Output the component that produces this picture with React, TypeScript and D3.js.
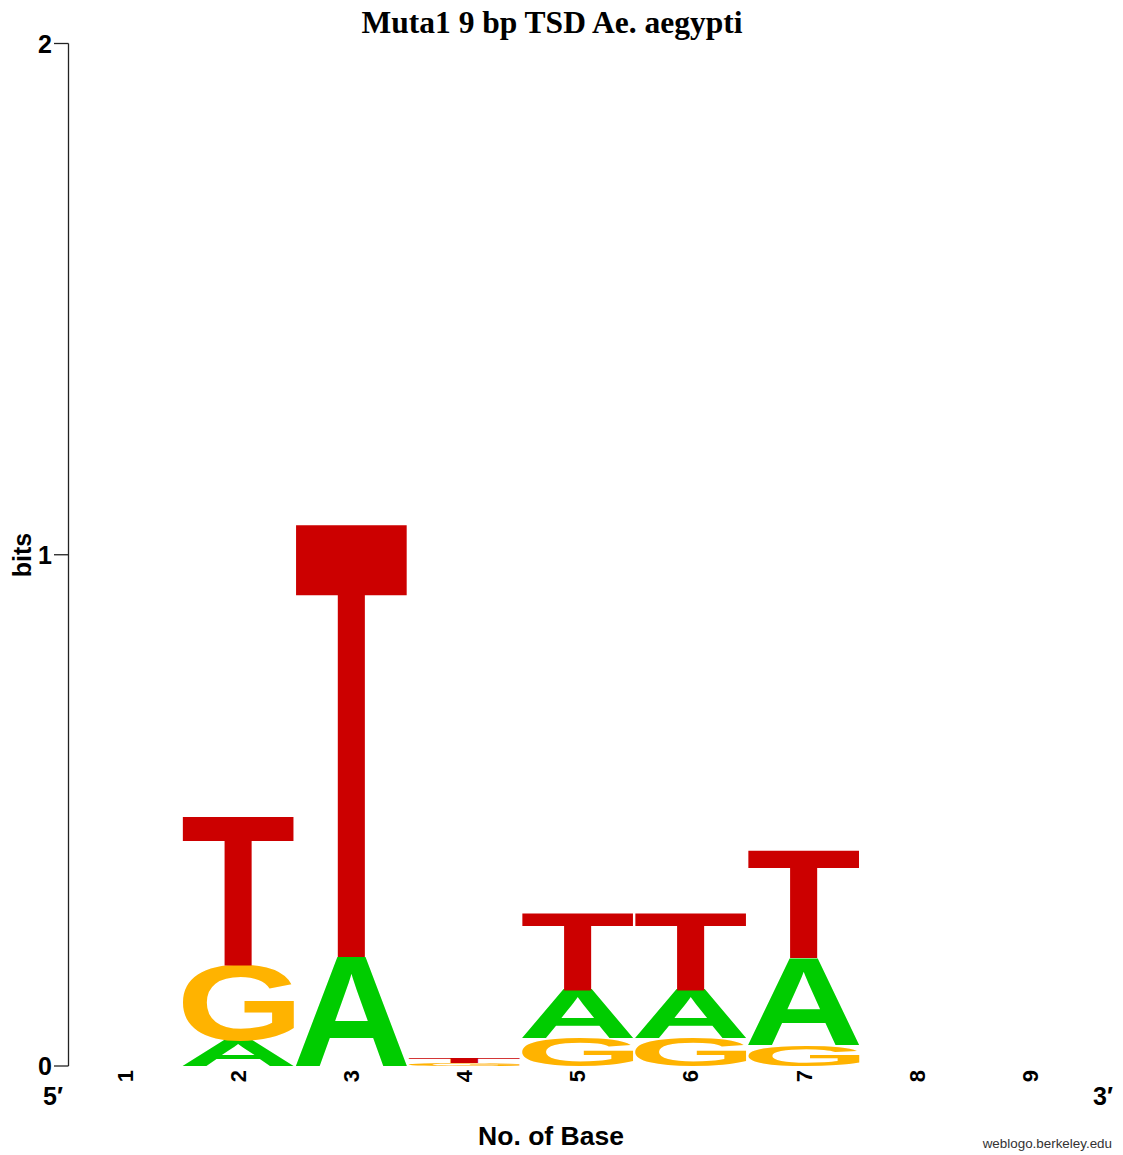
import React, { useMemo } from 'react';
import * as d3 from 'd3';

// ---- data (bits per letter at each position) ----
const positions = [1, 2, 3, 4, 5, 6, 7, 8, 9];
const bitsA = [0, 0.049, 0.213, 0, 0.094, 0.094, 0.170, 0, 0];
const bitsC = [0, 0, 0, 0, 0, 0, 0, 0, 0];
const bitsG = [0, 0.149, 0, 0.006, 0.055, 0.055, 0.041, 0, 0];
const bitsT = [0, 0.290, 0.844, 0.010, 0.149, 0.149, 0.209, 0, 0];
const yTicks = [0, 1, 2];
const title = 'Muta1 9 bp TSD Ae. aegypti';

const colors: Record<string, string> = {
  A: '#00CC00',
  C: '#0000CC',
  G: '#FFB300',
  T: '#CC0000',
};

const LETTER_FONT = "'Liberation Sans', Arial, Helvetica, sans-serif";
const MF = 400; // measuring / drawing font size

type Ink = { L: number; R: number; A: number; D: number };

// Measure the actual ink box of a glyph by rasterising it and scanning pixels.
function measureInk(ch: string): Ink {
  const size = 1000;
  const ox = 250;
  const oy = 700;
  const cv = document.createElement('canvas');
  cv.width = size;
  cv.height = size;
  const ctx = cv.getContext('2d')!;
  ctx.font = `bold ${MF}px ${LETTER_FONT}`;
  ctx.fillStyle = '#000';
  ctx.fillText(ch, ox, oy);
  const data = ctx.getImageData(0, 0, size, size).data;
  let minX = size, minY = size, maxX = -1, maxY = -1;
  for (let yy = 0; yy < size; yy++) {
    for (let xx = 0; xx < size; xx++) {
      if (data[(yy * size + xx) * 4 + 3] >= 128) {
        if (xx < minX) minX = xx;
        if (xx > maxX) maxX = xx;
        if (yy < minY) minY = yy;
        if (yy > maxY) maxY = yy;
      }
    }
  }
  if (maxX < 0) {
    const m = ctx.measureText(ch);
    return {
      L: m.actualBoundingBoxLeft,
      R: m.actualBoundingBoxRight,
      A: m.actualBoundingBoxAscent,
      D: m.actualBoundingBoxDescent,
    };
  }
  return { L: ox - minX, R: maxX + 1 - ox, A: oy - minY, D: maxY + 1 - oy };
}

export default function App() {
  const W = 1123;
  const H = 1155;
  const axisX = 68.5;

  const x = d3
    .scaleBand<number>()
    .domain(positions)
    .range([axisX, axisX + 9 * 113.1])
    .paddingInner(0.02)
    .paddingOuter(0.01);

  const y = d3.scaleLinear().domain([0, 2]).range([1066, 43.5]);

  const inks = useMemo(() => {
    const r: Record<string, Ink> = {};
    ['A', 'C', 'G', 'T'].forEach((c) => (r[c] = measureInk(c)));
    return r;
  }, []);

  const stacks = positions.map((p, i) => {
    const items = [
      { ch: 'A', v: bitsA[i] },
      { ch: 'C', v: bitsC[i] },
      { ch: 'G', v: bitsG[i] },
      { ch: 'T', v: bitsT[i] },
    ]
      .filter((d) => d.v > 0)
      .sort((a, b) => a.v - b.v);
    let acc = 0;
    return items.map((d) => {
      const y0 = acc;
      acc += d.v;
      return { pos: p, ch: d.ch, y0, y1: acc };
    });
  });

  const bw = x.bandwidth();

  return (
    <svg
      width={W}
      height={H}
      style={{ position: 'absolute', left: 0, top: 0, background: '#fff' }}
    >
      <rect x={0} y={0} width={W} height={H} fill="#fff" />
      {/* title */}
      <text
        x={552}
        y={33}
        textAnchor="middle"
        fontFamily="'Liberation Serif', 'Times New Roman', serif"
        fontWeight="bold"
        fontSize={31.5}
        fill="#000"
      >
        {title}
      </text>

      {/* letters */}
      {stacks.flat().map((d, k) => {
        const ink = inks[d.ch];
        const x0 = x(d.pos)!;
        const top = y(d.y1);
        const bottom = y(d.y0);
        const sx = bw / (ink.L + ink.R);
        const sy = (bottom - top) / (ink.A + ink.D);
        return (
          <text
            key={k}
            transform={`translate(${x0},${top}) scale(${sx},${sy}) translate(${ink.L},${ink.A})`}
            fontFamily={LETTER_FONT}
            fontWeight="bold"
            fontSize={MF}
            fill={colors[d.ch]}
          >
            {d.ch}
          </text>
        );
      })}

      {/* y axis */}
      <line x1={axisX} x2={axisX} y1={y(2)} y2={y(0)} stroke="#222" strokeWidth={1.3} />
      {yTicks.map((t) => (
        <g key={t}>
          <line x1={54} x2={axisX} y1={y(t)} y2={y(t)} stroke="#222" strokeWidth={1.3} />
          <text
            x={52}
            y={y(t)}
            dy="0.36em"
            textAnchor="end"
            fontFamily={LETTER_FONT}
            fontWeight="bold"
            fontSize={25}
            fill="#000"
          >
            {t}
          </text>
        </g>
      ))}
      <text
        transform={`translate(31,555) rotate(-90)`}
        textAnchor="middle"
        fontFamily={LETTER_FONT}
        fontWeight="bold"
        fontSize={25}
        fill="#000"
      >
        bits
      </text>

      {/* x tick labels */}
      {positions.map((p) => (
        <text
          key={p}
          transform={`translate(${x(p)! + bw / 2},1070) rotate(-90)`}
          textAnchor="end"
          dy="0.36em"
          fontFamily={LETTER_FONT}
          fontWeight="bold"
          fontSize={22}
          fill="#000"
        >
          {p}
        </text>
      ))}
      <text x={53} y={1105} textAnchor="middle" fontFamily={LETTER_FONT} fontWeight="bold" fontSize={25} fill="#000">
        5′
      </text>
      <text x={1103} y={1105} textAnchor="middle" fontFamily={LETTER_FONT} fontWeight="bold" fontSize={25} fill="#000">
        3′
      </text>
      <text x={551} y={1145} textAnchor="middle" fontFamily={LETTER_FONT} fontWeight="bold" fontSize={26.5} fill="#000">
        No. of Base
      </text>
      <text x={1112} y={1148} textAnchor="end" fontFamily={LETTER_FONT} fontSize={13.4} fill="#333">
        weblogo.berkeley.edu
      </text>
    </svg>
  );
}
